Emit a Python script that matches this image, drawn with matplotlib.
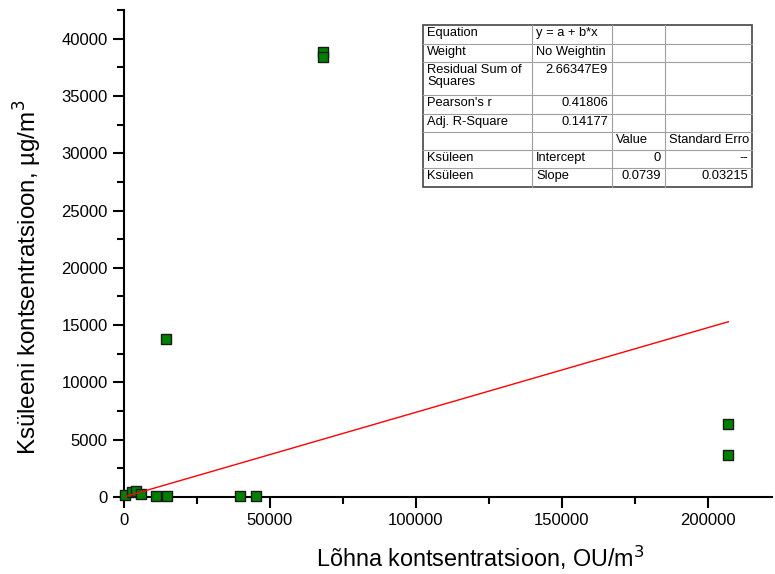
import matplotlib
matplotlib.use("Agg")
import matplotlib.pyplot as plt
from matplotlib.ticker import MultipleLocator
import numpy as np

plt.rcParams['font.family'] = ['Liberation Sans', 'DejaVu Sans']

# Measured concentrations
odour_ou = [500, 3000, 4200, 6000, 11000, 15000, 40000, 45500,
            14500, 68300, 68300, 207000, 207000]
xylene_ug = [150, 450, 550, 300, 80, 60, 80, 60,
             13800, 38800, 38400, 6400, 3700]

# Linear fit through the origin
fit_intercept = 0.0
fit_slope = 0.0739

# Fit summary table
table_rows = [
    ["Equation", "y = a + b*x", "", ""],
    ["Weight", "No Weightin", "", ""],
    ["Residual Sum of\nSquares", "2.66347E9", "", ""],
    ["Pearson's r", "0.41806", "", ""],
    ["Adj. R-Square", "0.14177", "", ""],
    ["", "", "Value", "Standard Erro"],
    ["Ksüleen", "Intercept", "0", "--"],
    ["Ksüleen", "Slope", "0.0739", "0.03215"],
]
# horizontal alignment of each cell
table_align = [
    ['l', 'l', 'l', 'l'],
    ['l', 'l', 'l', 'l'],
    ['l', 'r', 'l', 'l'],
    ['l', 'r', 'l', 'l'],
    ['l', 'r', 'l', 'l'],
    ['l', 'l', 'l', 'l'],
    ['l', 'l', 'r', 'r'],
    ['l', 'l', 'r', 'r'],
]

fig = plt.figure(figsize=(7.75, 5.74), dpi=100)
ax = fig.add_axes([0.1594, 0.1341, 0.837, 0.8485])

ax.scatter(odour_ou, xylene_ug, marker='s', s=62, facecolor='#008000',
           edgecolor='#1a1a1a', linewidth=1.0, zorder=3, clip_on=False)

xs = np.array([min(odour_ou), max(odour_ou)])
ax.plot(xs, fit_intercept + fit_slope * xs, color='red', lw=1.0, zorder=4)

ax.set_xlim(0, 222000)
ax.set_ylim(0, 42500)
ax.xaxis.set_major_locator(MultipleLocator(50000))
ax.xaxis.set_minor_locator(MultipleLocator(25000))
ax.yaxis.set_major_locator(MultipleLocator(5000))
ax.yaxis.set_minor_locator(MultipleLocator(2500))

for s in ['top', 'right']:
    ax.spines[s].set_visible(False)
for s in ['left', 'bottom']:
    ax.spines[s].set_linewidth(1.5)
ax.tick_params(which='major', direction='out', length=8, width=1.5,
               labelsize=12, colors='black')
ax.tick_params(which='minor', direction='out', length=5, width=1.5)

ax.set_xlabel("Lõhna kontsentratsioon, OU/m$^3$", fontsize=16.8)
ax.set_ylabel("Ksüleeni kontsentratsioon, µg/m$^3$", fontsize=17.4)
ax.xaxis.set_label_coords(0.55, -0.097)
ax.yaxis.set_label_coords(-0.122, 0.45)

# Table in figure pixel coordinates (top-left origin)
W, H = 775, 574
col_edges = [423, 532, 612, 665, 752]
row_edges = [25, 44, 62, 95, 114, 132, 150, 168, 187]


def fx(px):
    return px / W


def fy(py):
    return 1 - py / H


for yv in row_edges[1:-1]:
    fig.add_artist(plt.Line2D([fx(col_edges[0]), fx(col_edges[-1])], [fy(yv), fy(yv)],
                              color='#a0a0a0', lw=0.8, transform=fig.transFigure))
for xv in col_edges[1:-1]:
    fig.add_artist(plt.Line2D([fx(xv), fx(xv)], [fy(row_edges[0]), fy(row_edges[-1])],
                              color='#a0a0a0', lw=0.8, transform=fig.transFigure))
fig.add_artist(plt.Rectangle((fx(col_edges[0]), fy(row_edges[-1])),
                             fx(col_edges[-1]) - fx(col_edges[0]),
                             fy(row_edges[0]) - fy(row_edges[-1]),
                             fill=False, edgecolor='#444444', lw=1.2,
                             transform=fig.transFigure))

for r, row in enumerate(table_rows):
    top = row_edges[r]
    for c, txt in enumerate(row):
        if not txt:
            continue
        if table_align[r][c] == 'l':
            x, ha = col_edges[c] + 4, 'left'
        else:
            x, ha = col_edges[c + 1] - 4, 'right'
        fig.text(fx(x), fy(top + 2), txt, ha=ha, va='top', fontsize=9.3,
                 linespacing=1.05)

fig.savefig("out.png", dpi=100)
